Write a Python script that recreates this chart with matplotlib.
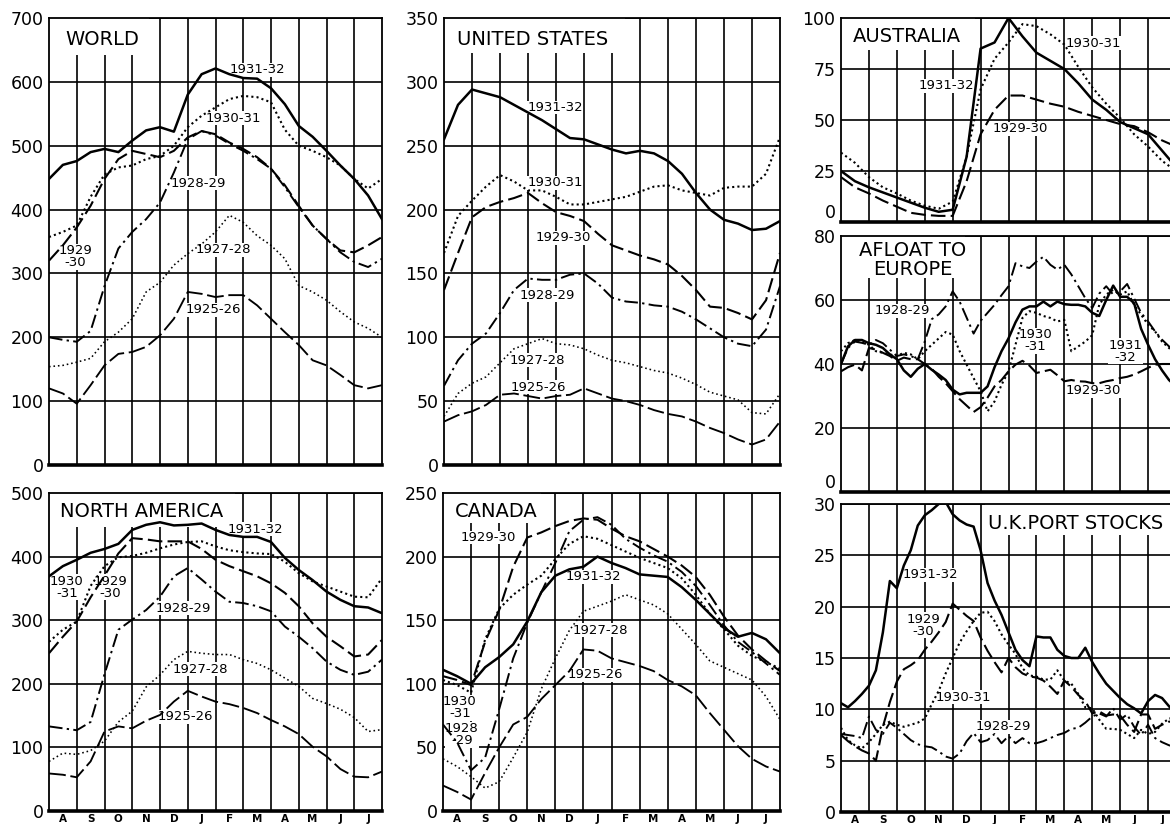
import numpy as np
import matplotlib
matplotlib.use("Agg")
import matplotlib.pyplot as plt
from matplotlib.patches import Rectangle

# ---------------- data (millions of bushels), sampled every half month / quarter month, Aug -> Jul
MONTHS = ["A", "S", "O", "N", "D", "J", "F", "M", "A", "M", "J", "J"]
half_months = np.arange(25) * 0.5
quarter_months = np.arange(49) * 0.25

world_1931_32 = [448, 470, 476, 490, 495, 490, 508, 524, 529, 522, 580, 612, 621, 612, 606, 605, 590, 565, 531, 514, 492, 469, 448, 422, 385]
world_1930_31 = [357, 365, 375, 420, 455, 466, 469, 479, 484, 500, 529, 547, 560, 573, 578, 576, 568, 525, 500, 492, 482, 469, 448, 433, 448]
world_1929_30 = [320, 344, 372, 406, 448, 479, 492, 487, 482, 492, 513, 523, 518, 505, 495, 482, 464, 438, 406, 375, 354, 336, 333, 344, 357]
world_1928_29 = [200, 196, 193, 210, 280, 339, 365, 385, 411, 458, 510, 523, 516, 503, 492, 479, 464, 435, 404, 375, 354, 333, 318, 310, 323]
world_1927_28 = [154, 156, 161, 167, 193, 208, 229, 271, 286, 313, 331, 346, 365, 391, 380, 359, 344, 323, 281, 271, 258, 240, 224, 214, 200]
world_1925_26 = [120, 112, 96, 125, 156, 174, 177, 185, 203, 229, 271, 268, 263, 266, 266, 250, 229, 208, 188, 164, 156, 141, 125, 120, 125]

us_1931_32 = [255, 282, 294, 291, 288, 282, 276, 270, 263, 256, 255, 251, 247, 244, 246, 244, 238, 228, 213, 200, 192, 189, 184, 185, 191]
us_1930_31 = [166, 195, 207, 218, 227, 222, 215, 215, 210, 204, 204, 206, 208, 210, 214, 218, 219, 215, 213, 211, 217, 218, 218, 228, 257]
us_1929_30 = [137, 166, 194, 202, 206, 209, 213, 205, 198, 195, 191, 181, 172, 168, 164, 161, 157, 148, 137, 124, 123, 119, 114, 129, 166]
us_1928_29 = [62, 82, 95, 103, 119, 137, 146, 145, 145, 149, 150, 142, 131, 128, 127, 125, 124, 120, 114, 107, 100, 95, 93, 106, 140]
us_1927_28 = [38, 56, 64, 69, 80, 91, 95, 99, 95, 94, 91, 86, 82, 80, 77, 74, 72, 68, 63, 57, 54, 51, 41, 40, 56]
us_1925_26 = [34, 39, 42, 47, 55, 56, 54, 52, 54, 55, 60, 56, 52, 50, 47, 43, 40, 38, 34, 29, 25, 20, 16, 20, 34]

na_1931_32 = [369, 385, 395, 406, 412, 420, 442, 450, 454, 449, 450, 452, 442, 434, 431, 431, 423, 398, 379, 363, 345, 332, 322, 320, 311]
na_1930_31 = [266, 285, 298, 354, 385, 399, 401, 406, 413, 419, 423, 424, 416, 410, 407, 405, 404, 392, 374, 361, 353, 345, 337, 336, 366]
na_1929_30 = [248, 274, 298, 336, 370, 405, 429, 427, 424, 424, 424, 412, 395, 385, 377, 369, 358, 343, 322, 295, 274, 259, 243, 246, 269]
na_1928_29 = [133, 130, 127, 140, 215, 285, 301, 316, 337, 369, 382, 364, 345, 329, 327, 322, 314, 290, 274, 256, 235, 222, 214, 219, 238]
na_1927_28 = [78, 91, 89, 95, 110, 140, 157, 195, 214, 238, 251, 248, 246, 246, 238, 232, 222, 209, 196, 177, 169, 160, 147, 125, 128]
na_1925_26 = [59, 57, 53, 78, 125, 133, 130, 142, 151, 172, 189, 180, 172, 168, 162, 154, 143, 133, 121, 101, 86, 66, 54, 53, 62]

ca_1931_32 = [111, 106, 100, 113, 121, 131, 149, 172, 185, 190, 192, 200, 195, 191, 186, 185, 184, 176, 166, 155, 144, 137, 140, 135, 124]
ca_1930_31 = [103, 99, 93, 135, 159, 170, 178, 185, 198, 210, 216, 214, 209, 204, 199, 195, 191, 183, 170, 155, 143, 130, 122, 117, 112]
ca_1929_30 = [106, 103, 99, 133, 158, 192, 215, 219, 224, 228, 230, 229, 222, 216, 212, 206, 200, 193, 184, 170, 153, 138, 127, 118, 110]
ca_1928_29 = [68, 54, 32, 42, 80, 120, 148, 172, 195, 220, 229, 231, 225, 214, 207, 201, 196, 188, 177, 162, 146, 133, 125, 116, 107]
ca_1927_28 = [41, 35, 27, 18, 23, 42, 62, 96, 120, 142, 157, 161, 165, 170, 166, 162, 155, 143, 131, 118, 113, 108, 103, 90, 72]
ca_1925_26 = [20, 15, 9, 30, 50, 68, 74, 88, 99, 110, 127, 126, 120, 117, 114, 110, 103, 98, 91, 77, 64, 51, 41, 35, 31]

au_1931_32 = [25, 20, 17, 14.5, 12, 9.5, 7, 5, 6, 32, 85, 88, 100, 91, 83, 79, 75, 68, 60, 55, 49, 46, 43, 35, 27]
au_1930_31 = [34, 29, 22, 17, 14, 10.5, 8, 6.5, 10, 32, 65, 80, 88, 97, 96, 92, 87, 76, 66, 58, 51, 43, 37, 30, 25]
au_1929_30 = [22, 17, 14, 10.5, 7.5, 4.5, 3.5, 3, 3, 20, 43, 55, 62, 62, 60, 58, 56.5, 54, 52, 50, 48, 47, 44, 40, 37]

afloat_1931_32 = [40, 45.5, 47.5, 47.5, 46.5, 46, 45, 43, 41.5, 38, 36, 38.5, 40, 38.2, 36.7, 35, 32, 30.5, 31, 31, 31, 33, 39, 44,
                  48, 53, 57, 58, 58, 59.5, 58, 59.5, 58.7, 58.5, 58.5, 58, 56, 55, 60, 64.5, 61, 61, 59, 51, 46, 41.5, 38, 35, 33]
afloat_1930_31 = [44, 46.5, 47.5, 47, 46, 44, 43.5, 43, 42.5, 43.5, 43, 41.5, 44, 46, 48, 50, 49.2, 44, 39.8, 35.6, 31.5, 25.2, 28.3, 33.5,
                  37.7, 46, 54.4, 56.5, 56, 55, 54.4, 53.3, 53.8, 44, 45.5, 47, 49, 58.5, 61.7, 63.2, 61.7, 62.7, 58.5, 55.4, 52.3, 50.2, 47, 45, 43]
afloat_1929_30 = [37.7, 39, 39.8, 38, 45, 44.5, 43.5, 42.5, 41, 42, 41.5, 41.5, 40, 38.5, 36, 34, 31.5, 29, 27, 25, 26.5, 29.5, 33, 35,
                  37.7, 39.8, 41, 39.5, 37.2, 37.7, 38.2, 36.5, 34.6, 35, 34.6, 34.5, 34, 34, 34.6, 35, 35.6, 36, 36.7, 37.7, 38.8, 39.8, 40, 40, 40]
afloat_1928_29 = [40, 45, 47, 46.6, 46, 47.5, 46.5, 44.5, 42.5, 43, 42.5, 41.5, 47, 54, 55.5, 58, 62.7, 59.5, 54.5, 49.5, 53.5, 56, 58.5, 61.5,
                  64.3, 71.5, 70.5, 70, 72, 73.5, 71, 69.5, 71, 68, 64.3, 60.6, 57.5, 62, 64.3, 61.7, 62.7, 65, 60.5, 56, 53.3, 50.2, 47.6, 45.5, 44]

uk_1931_32 = [10.6, 10.2, 10.8, 11.5, 12.3, 13.8, 17.5, 22.5, 21.8, 24.0, 25.5, 27.9, 28.9, 29.4, 30.0, 30.2, 29, 28.4, 28, 27.8, 25.5, 22.3, 20.6, 19.2,
              17.5, 15.8, 14.8, 14.2, 17.1, 17, 17, 15.8, 15.2, 15, 15, 16, 14.6, 13.5, 12.5, 11.8, 11.1, 10.5, 10.1, 9.6, 10.8, 11.4, 11.1, 10.3, 9.5]
uk_1930_31 = [8.2, 7, 6.5, 6.2, 6.8, 7.6, 8.5, 8.8, 8.5, 8.3, 8.5, 8.7, 9.1, 10.5, 11.8, 13.5, 15.0, 16.5, 17.6, 18.6, 19.4, 19.5, 18.6, 17.3,
              16.3, 15.4, 14, 13.3, 13.2, 12.9, 12.9, 13.8, 12.8, 12.5, 11.5, 10.2, 10.1, 9, 8.1, 8.1, 8, 7.6, 7.2, 8, 7.6, 7.8, 8.6, 9.1, 9.2]
uk_1929_30 = [7.5, 6.9, 6.4, 6.0, 5.7, 5.0, 8.3, 10.7, 12.7, 13.9, 14.3, 14.8, 15.8, 16.6, 17.5, 18.5, 20.3, 19.7, 19.1, 18.6, 17, 15.7, 14.6, 13.6,
              15, 14.1, 13.5, 13.2, 13.1, 12.8, 12.2, 11.5, 12.8, 12.2, 11.4, 10.8, 9.6, 9.8, 9.4, 9.5, 9.4, 8.5, 7.8, 9.5, 9.5, 8.1, 8.5, 8.8, 8.8]
uk_1928_29 = [7.6, 7.5, 7.4, 7.2, 9.3, 8.0, 7.6, 8.7, 8.2, 7.6, 7.0, 6.6, 6.4, 6.3, 5.9, 5.4, 5.2, 5.7, 6.9, 7.7, 6.8, 7.0, 7.6, 6.7,
              7.4, 6.7, 7.2, 6.7, 6.7, 6.9, 7.2, 7.5, 7.7, 8.1, 8.2, 8.7, 9.3, 9.6, 9.3, 10.1, 9.0, 9.5, 8.3, 7.5, 8.5, 7.2, 6.8, 6.5, 6.3]

# ---------------- styles
STYLE = {
    "1931-32": dict(linestyle="-", linewidth=1.8),
    "1930-31": dict(linestyle=(0, (1.0, 1.5)), linewidth=1.5),
    "1929-30": dict(linestyle=(0, (7, 2.5)), linewidth=1.5),
    "1928-29": dict(linestyle=(0, (7, 2.2, 1.2, 2.2)), linewidth=1.4),
    "1927-28": dict(linestyle=(0, (1.0, 1.8)), linewidth=1.15),
    "1925-26": dict(linestyle=(0, (9, 2.5)), linewidth=1.35),
}

W, H = 1170, 824
fig = plt.figure(figsize=(W / 100, H / 100), dpi=100)
fig.patch.set_facecolor("white")


def px_rect(left, top, right, bottom):
    return [left / W, 1 - bottom / H, (right - left) / W, (bottom - top) / H]


def make_axes(rect, ymax, ystep, months=False, zero_up=False):
    ax = fig.add_axes(rect)
    ax.set_xlim(0, 12)
    ax.set_ylim(0, ymax)
    ax.set_xticks(np.arange(1, 12))
    ax.set_xticklabels([])
    ax.set_yticks(np.arange(0, ymax + ystep / 2, ystep))
    ax.grid(True, which="major", color="black", linewidth=1.2)
    ax.set_axisbelow(True)
    ax.tick_params(axis="both", which="major", length=0, labelsize=12.5, pad=4)
    if months:
        ax.set_xticks(np.arange(0.5, 12, 1), minor=True)
        ax.set_xticklabels(MONTHS, minor=True, fontsize=7.5, fontweight="bold")
        ax.tick_params(axis="x", which="minor", length=0, pad=2)
    if zero_up:
        ax.yaxis.get_major_ticks()[0].label1.set_verticalalignment("bottom")
    for s in ax.spines.values():
        s.set_linewidth(1.3)
        s.set_zorder(2.6)
    ax.spines["bottom"].set_linewidth(2.6)
    return ax


def title(ax, text, x, y, box, ha="left", size=14):
    x0, y0, x1 = box
    ax.add_patch(Rectangle((x0, y0), x1 - x0, 1 - y0, transform=ax.transAxes,
                           facecolor="white", edgecolor="none", zorder=1))
    ax.text(x, y, text, transform=ax.transAxes, ha=ha, va="center",
            fontsize=size, zorder=1.2, linespacing=0.95)


def draw(ax, x, series, labels):
    for name, vals in series:
        ax.plot(x, vals, color="black", zorder=2, dash_capstyle="butt", **STYLE[name])
    for text, lx, ly in labels:
        ax.text(lx, ly, text, ha="center", va="center", fontsize=9.5, zorder=1.5,
                linespacing=0.9,
                bbox=dict(facecolor="white", edgecolor="none", pad=0.3))


# ---------------- WORLD
ax = make_axes(px_rect(49, 18, 382, 465), 700, 100)
title(ax, "WORLD", 0.048, 0.953, (0, 0.917, 0.30))
draw(ax, half_months,
     [("1925-26", world_1925_26), ("1927-28", world_1927_28), ("1928-29", world_1928_29),
      ("1929-30", world_1929_30), ("1930-31", world_1930_31), ("1931-32", world_1931_32)],
     [("1931-32", 7.5, 619), ("1930-31", 6.63, 543), ("1928-29", 5.37, 441),
      ("1929\n-30", 0.94, 326), ("1927-28", 6.27, 337), ("1925-26", 5.91, 243)])

# ---------------- UNITED STATES
ax = make_axes(px_rect(444, 18, 780, 465), 350, 50)
title(ax, "UNITED STATES", 0.039, 0.953, (0, 0.922, 0.54))
draw(ax, half_months,
     [("1925-26", us_1925_26), ("1927-28", us_1927_28), ("1928-29", us_1928_29),
      ("1929-30", us_1929_30), ("1930-31", us_1930_31), ("1931-32", us_1931_32)],
     [("1931-32", 3.96, 280), ("1930-31", 3.96, 221), ("1929-30", 4.25, 178),
      ("1928-29", 3.68, 133), ("1927-28", 3.32, 82), ("1925-26", 3.36, 61)])

# ---------------- NORTH AMERICA
ax = make_axes(px_rect(49, 493, 382, 811), 500, 100, months=True)
title(ax, "NORTH AMERICA", 0.033, 0.943, (0, 0.893, 0.56))
draw(ax, half_months,
     [("1925-26", na_1925_26), ("1927-28", na_1927_28), ("1928-29", na_1928_29),
      ("1929-30", na_1929_30), ("1930-31", na_1930_31), ("1931-32", na_1931_32)],
     [("1931-32", 7.42, 443), ("1930\n-31", 0.64, 352), ("1929\n-30", 2.2, 352),
      ("1928-29", 4.83, 319), ("1927-28", 5.44, 223), ("1925-26", 4.9, 148)])

# ---------------- CANADA
ax = make_axes(px_rect(443, 493, 780, 811), 250, 50, months=True)
title(ax, "CANADA", 0.036, 0.943, (0, 0.906, 0.29))
draw(ax, half_months,
     [("1925-26", ca_1925_26), ("1927-28", ca_1927_28), ("1928-29", ca_1928_29),
      ("1929-30", ca_1929_30), ("1930-31", ca_1930_31), ("1931-32", ca_1931_32)],
     [("1929-30", 1.6, 215), ("1931-32", 5.36, 184), ("1927-28", 5.6, 142),
      ("1925-26", 5.43, 107), ("1930\n-31", 0.6, 81), ("1928\n-29", 0.67, 60)])

# ---------------- AUSTRALIA
ax = make_axes(px_rect(841, 18, 1176, 222), 100, 25, zero_up=True)
title(ax, "AUSTRALIA", 0.036, 0.907, (0, 0.843, 0.40))
draw(ax, half_months,
     [("1929-30", au_1929_30), ("1930-31", au_1930_31), ("1931-32", au_1931_32)],
     [("1930-31", 9.03, 87.7), ("1931-32", 3.76, 66.7), ("1929-30", 6.42, 45.6)])

# ---------------- AFLOAT TO EUROPE
ax = make_axes(px_rect(841, 236, 1176, 492), 80, 20, zero_up=True)
title(ax, "AFLOAT TO\nEUROPE", 0.213, 0.906, (0, 0.836, 0.37), ha="center")
draw(ax, quarter_months,
     [("1929-30", afloat_1929_30), ("1928-29", afloat_1928_29),
      ("1930-31", afloat_1930_31), ("1931-32", afloat_1931_32)],
     [("1928-29", 2.18, 56.6), ("1930\n-31", 6.95, 47.2), ("1931\n-32", 10.18, 44),
      ("1929-30", 9.03, 31.6)])

# ---------------- U.K. PORT STOCKS
ax = make_axes(px_rect(841, 504, 1176, 812), 30, 5, months=True)
title(ax, "U.K.PORT STOCKS", 0.44, 0.938, (0.43, 0.899, 1.0))
draw(ax, quarter_months,
     [("1928-29", uk_1928_29), ("1929-30", uk_1929_30),
      ("1930-31", uk_1930_31), ("1931-32", uk_1931_32)],
     [("1931-32", 3.19, 23.1), ("1929\n-30", 2.94, 18.2), ("1930-31", 4.37, 11.2),
      ("1928-29", 5.8, 8.3)])

fig.savefig("out.png", dpi=100)
